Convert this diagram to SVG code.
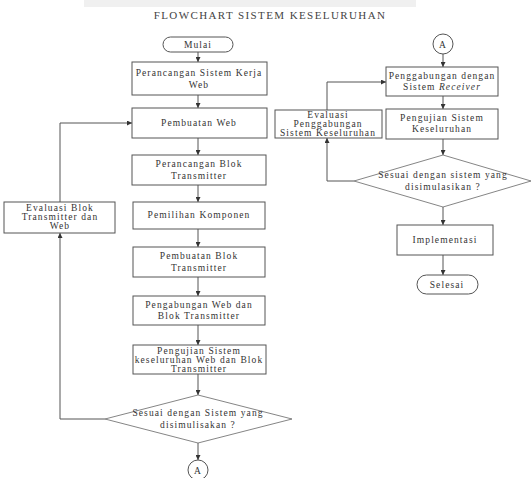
<svg xmlns="http://www.w3.org/2000/svg" width="532" height="478" viewBox="0 0 532 478">
<defs>
<marker id="ah" viewBox="0 0 6 6" refX="6" refY="3" markerWidth="5" markerHeight="5" orient="auto-start-reverse">
<path d="M0,0 L6,3 L0,6 z" fill="#333"/>
</marker>
<style>
.b{fill:#fff;stroke:#555;stroke-width:1}
.d{fill:#fff;stroke:#666;stroke-width:0.8}
.c{fill:none;stroke:#555;stroke-width:1;marker-end:url(#ah)}
text{font-family:"Liberation Serif","Times New Roman",serif;font-size:9.5px;fill:#333;text-anchor:middle;letter-spacing:1.1px}
.t{font-size:11px;letter-spacing:1.4px;fill:#444}
</style>
</defs>
<rect width="532" height="478" fill="#fff"/>
<rect x="84" y="0" width="332" height="7" fill="#f0f0f0"/>
<text class="t" x="270" y="19">FLOWCHART SISTEM KESELURUHAN</text>

<g id="connectors">
<line class="c" x1="198" y1="52" x2="198" y2="62"/>
<line class="c" x1="198" y1="95" x2="198" y2="108"/>
<line class="c" x1="198" y1="138" x2="198" y2="155"/>
<line class="c" x1="198" y1="185" x2="198" y2="202"/>
<line class="c" x1="198" y1="229" x2="198" y2="247"/>
<line class="c" x1="198" y1="277" x2="198" y2="296"/>
<line class="c" x1="198" y1="325" x2="198" y2="345"/>
<line class="c" x1="198" y1="374" x2="198" y2="395"/>
<line class="c" x1="198" y1="443" x2="198" y2="460"/>
<path class="c" d="M105,419 H60 V233"/>
<path class="c" d="M60,202 V123 H132"/>
<line class="c" x1="443" y1="54" x2="443" y2="67"/>
<line class="c" x1="443" y1="96" x2="443" y2="109"/>
<line class="c" x1="443" y1="139" x2="443" y2="155"/>
<line class="c" x1="443" y1="207" x2="443" y2="225"/>
<line class="c" x1="443" y1="255" x2="443" y2="275"/>
<path class="c" d="M354,181 H327 V138"/>
<path class="c" d="M327,110 V82 H386"/>
</g>

<g id="mulai"><rect class="b" x="163" y="37" width="70" height="15" rx="7.5"/><text x="198" y="48">Mulai</text></g>
<g id="n1"><rect class="b" x="132" y="62" width="135" height="33"/><text x="199" y="76">Perancangan Sistem Kerja</text><text x="199" y="88">Web</text></g>
<g id="n2"><rect class="b" x="132" y="108" width="135" height="30"/><text x="199" y="126">Pembuatan Web</text></g>
<g id="n3"><rect class="b" x="132" y="155" width="134" height="30"/><text x="199" y="167">Perancangan Blok</text><text x="199" y="179">Transmitter</text></g>
<g id="n4"><rect class="b" x="133" y="202" width="132" height="27"/><text x="199" y="218">Pemilihan Komponen</text></g>
<g id="n5"><rect class="b" x="133" y="247" width="132" height="30"/><text x="199" y="259">Pembuatan Blok</text><text x="199" y="271">Transmitter</text></g>
<g id="n6"><rect class="b" x="133" y="296" width="132" height="29"/><text x="199" y="308">Pengabungan Web dan</text><text x="199" y="319">Blok Transmitter</text></g>
<g id="n7"><rect class="b" x="133" y="345" width="133" height="29"/><text x="199" y="354">Pengujian Sistem</text><text x="199" y="363">keseluruhan Web dan Blok</text><text x="199" y="372">Transmitter</text></g>
<g id="d1"><polygon class="d" points="198,395 292,419 198,443 105,419"/><text x="198" y="416">Sesuai dengan Sistem yang</text><text x="198" y="428">disimulisakan ?</text></g>
<g id="a1"><circle class="b" cx="198" cy="470" r="10"/><text x="198" y="474">A</text></g>
<g id="eval1"><rect class="b" x="4" y="202" width="111" height="31"/><text x="60" y="211">Evaluasi Blok</text><text x="60" y="220">Transmitter dan</text><text x="60" y="229">Web</text></g>

<g id="a2"><circle class="b" cx="443" cy="44" r="10"/><text x="443" y="48">A</text></g>
<g id="r1"><rect class="b" x="386" y="67" width="112" height="29"/><text x="442" y="79">Penggabungan dengan</text><text x="442" y="90">Sistem <tspan font-style="italic">Receiver</tspan></text></g>
<g id="r2"><rect class="b" x="386" y="109" width="112" height="30"/><text x="442" y="121">Pengujian Sistem</text><text x="442" y="132">Keseluruhan</text></g>
<g id="d2"><polygon class="d" points="443,155 531,181 443,207 354,181"/><text x="443" y="178">Sesuai dengan sistem yang</text><text x="443" y="190">disimulasikan ?</text></g>
<g id="impl"><rect class="b" x="397" y="225" width="96" height="30"/><text x="445" y="243">Implementasi</text></g>
<g id="selesai"><rect class="b" x="417" y="275" width="61" height="19" rx="9.5"/><text x="447" y="288">Selesai</text></g>
<g id="eval2"><rect class="b" x="275" y="110" width="107" height="28"/><text x="328" y="118">Evaluasi</text><text x="328" y="127">Penggabungan</text><text x="328" y="136">Sistem Keseluruhan</text></g>
</svg>
